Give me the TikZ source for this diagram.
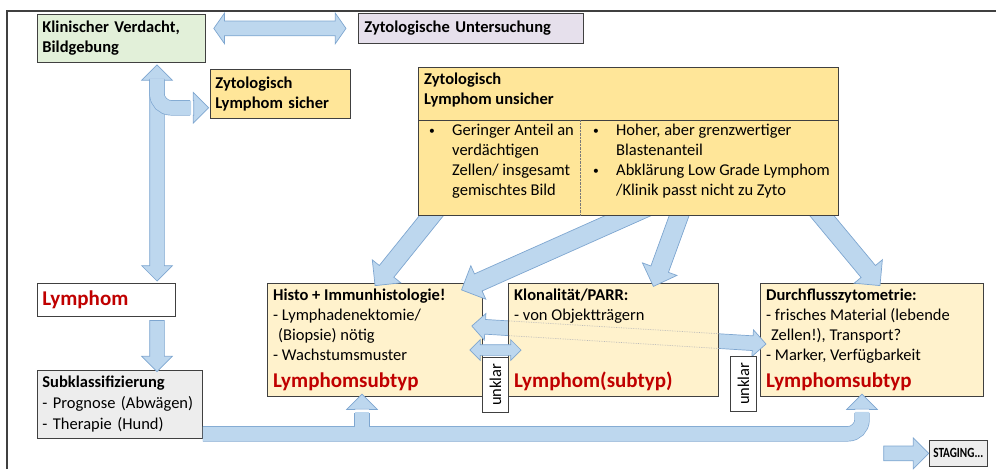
\documentclass[tikz,border=0pt]{standalone}
\usepackage{fontspec}
\setmainfont{Carlito}
\usepackage{xcolor}
\usetikzlibrary{calc,positioning,shapes.arrows}

\definecolor{gruen}{HTML}{E2F0D9}
\definecolor{lila}{HTML}{E6E0EC}
\definecolor{gelb}{HTML}{FFE699}
\definecolor{hellgelb}{HTML}{FFF2CC}
\definecolor{hellgrau}{HTML}{EDEDED}
\definecolor{pfeilblau}{HTML}{BDD7EE}
\definecolor{pfeilrand}{HTML}{7EA6D0}
\definecolor{dunkelrot}{HTML}{C00000}
\definecolor{rahmen}{HTML}{404040}

\newcommand\grundschrift{\fontsize{16.5}{20}\selectfont}
\newcommand\rotschrift{\fontsize{21}{25}\selectfont\bfseries\color{dunkelrot}}
\newcommand\punkt{\makebox[28pt][l]{\hspace{5pt}\raisebox{1pt}{\scalebox{0.7}{\textbullet}}}}
\newcommand\einzug{\hspace*{28pt}}

\tikzset{
	kasten/.style={draw=rahmen, line width=0.8pt, anchor=north west, inner sep=5pt, align=left, font=\grundschrift},
	schrift/.style={inner sep=5pt, anchor=north west, align=left, font=\grundschrift},
	lymphtext/.style={inner sep=5pt, font=\rotschrift},
	pfeil/.style={single arrow, draw=pfeilrand, fill=pfeilblau, line width=0.7pt, inner xsep=0pt, inner ysep=7pt, single arrow head extend=8pt, anchor=center},
	breitpfeil/.style={pfeil, inner ysep=9pt, single arrow head extend=9pt},
	doppelpfeil/.style={double arrow, draw=pfeilrand, fill=pfeilblau, line width=0.7pt, inner xsep=0pt, inner ysep=7pt, double arrow head extend=8pt, anchor=center},
	schaftrand/.style={draw=pfeilrand, line width=15.4pt, rounded corners=14pt},
	schaftfuell/.style={draw=pfeilblau, line width=14pt, rounded corners=14pt}
}

% block arrow between two points
\newcommand\blockpfeil[3]{%
	\path let \p1=(#2), \p2=(#3), \n1={atan2(\y2-\y1,\x2-\x1)}, \n2={veclen(\x2-\x1,\y2-\y1)} in
		node[#1, minimum height=\n2, rotate=\n1] at ($(\p1)!0.5!(\p2)$) {};}

\begin{document}
\begin{tikzpicture}[x=1pt, y=-1pt]
	\useasboundingbox (0,0) rectangle (996,469);

	% Frame
	\draw[rahmen, line width=1.5pt] (7,469) |- (996,11);

	% Boxes
	\node[kasten, fill=gruen, minimum width=168pt, minimum height=48pt, text width=158pt] (verdacht) at (37,14) {\textbf{Klinischer Verdacht,}\\\textbf{Bildgebung}};
	\node[kasten, fill=lila, minimum width=225pt, minimum height=30pt, text width=213pt, inner xsep=6pt] (untersuch) at (358,13) {\textbf{Zytologische Untersuchung}};
	\node[kasten, fill=gelb, minimum width=140pt, minimum height=49pt, text width=130pt] (sicher) at (210,69) {\textbf{Zytologisch}\\\textbf{Lymphom sicher}};
	\node[kasten, fill=white, minimum width=138pt, minimum height=33pt, text width=128pt] (lymphom) at (37,283) {\rotschrift Lymphom};
	\node[kasten, fill=hellgrau, minimum width=165pt, minimum height=68pt, text width=155pt] (subkl) at (37,370) {\textbf{Subklassifizierung}\\[1pt]- Prognose (Abwägen)\\[1pt]- Therapie (Hund)};
	\node[kasten, fill=hellgelb, minimum width=215pt, minimum height=113pt] (histo) at (267,283) {};
	\node[kasten, fill=hellgelb, minimum width=223pt, minimum height=113pt] (durch) at (760,283) {};
	\node[kasten, fill=hellgrau, minimum width=58pt, minimum height=26pt, align=center, inner sep=2pt, font=\fontsize{14}{16}\selectfont\bfseries] (staging) at (929,440) {\scalebox{0.8}[1]{STAGING...}};

	% Arrow between Histo and Durchfluss, under Klonalitaet
	\coordinate (q1) at ($(histo.north east)+(-11,43)$);
	\coordinate (q2) at ($(durch.north west)+(6,61)$);
	\blockpfeil{doppelpfeil, double arrow head extend=6pt}{q1}{q2}
	\node[kasten, fill=hellgelb, minimum width=210pt, minimum height=113pt] (klon) at (508,283) {};
	\begin{scope}
		\clip (klon.north west) rectangle (klon.south east);
		\blockpfeil{doppelpfeil, double arrow head extend=6pt, fill=none, draw=gray!55, densely dotted}{q1}{q2}
	\end{scope}

	% Arrows from the big box
	\coordinate (d1a) at ($(histo.north west)+(173,-78)$);
	\coordinate (d1b) at ($(histo.north west)+(111,-1)$);
	\coordinate (d2a) at ($(klon.north west)+(144,-78)$);
	\coordinate (d2b) at ($(histo.north east)+(-17,5)$);
	\coordinate (d3a) at ($(klon.north west)+(175,-78)$);
	\coordinate (d3b) at ($(klon.north west)+(147,-1)$);
	\coordinate (d4a) at ($(durch.north west)+(53,-78)$);
	\coordinate (d4b) at ($(durch.north west)+(117,-1)$);
	\blockpfeil{breitpfeil}{d1a}{d1b}
	\blockpfeil{breitpfeil}{d2a}{d2b}
	\blockpfeil{breitpfeil}{d3a}{d3b}
	\blockpfeil{breitpfeil}{d4a}{d4b}

	% Big box
	\node[kasten, fill=gelb, minimum width=420pt, minimum height=148pt] (unsicher) at (418,67) {};
	\coordinate (kopf) at ($(unsicher.north west)+(0,53)$);
	\draw[draw=rahmen, line width=0.8pt] (kopf) -- (kopf -| unsicher.east);
	\draw[densely dotted, rahmen!70] ($(kopf)+(162,0)$) -- ($(unsicher.south west)+(162,0)$);
	\node[schrift] (kopftext) at ($(unsicher.north west)+(1,1)$) {\textbf{Zytologisch}\\\textbf{Lymphom unsicher}};
	\node[schrift] (links) at ($(kopf)+(1,-1)$) {\punkt Geringer Anteil an\\\einzug verdächtigen\\\einzug Zellen/ insgesamt\\\einzug gemischtes Bild};
	\node[schrift] (rechts) at ($(kopf)+(165,-1)$) {\punkt Hoher, aber grenzwertiger\\\einzug Blastenanteil\\\punkt Abklärung Low Grade Lymphom\\\einzug /Klinik passt nicht zu Zyto};

	% Texts of the lower boxes
	\node[schrift] (histotext) at ($(histo.north west)+(1,1)$) {\textbf{Histo + Immunhistologie!}\\- Lymphadenektomie/\\\hspace*{5pt}(Biopsie) nötig\\- Wachstumsmuster};
	\node[lymphtext, anchor=south west] (histotyp) at ($(histo.south west)+(1,-1)$) {Lymphomsubtyp};
	\node[schrift] (klontext) at ($(klon.north west)+(1,1)$) {\textbf{Klonalität/PARR:}\\- von Objektträgern};
	\node[lymphtext, anchor=south west] (klontyp) at ($(klon.south west)+(1,-1)$) {Lymphom(subtyp)};
	\node[schrift] (durchtext) at ($(durch.north west)+(1,1)$) {\textbf{Durchflusszytometrie:}\\- frisches Material (lebende\\\hspace*{5pt}Zellen!), Transport?\\- Marker, Verfügbarkeit};
	\node[lymphtext, anchor=south west] (durchtyp) at ($(durch.south west)+(1,-1)$) {Lymphomsubtyp};

	% Top double arrow
	\coordinate (h1) at ($(verdacht.north east |- untersuch.west)+(8,0)$);
	\coordinate (h2) at ($(untersuch.west)+(-12,0)$);
	\blockpfeil{doppelpfeil, double arrow tip angle=110}{h1}{h2}

	% Left column arrows
	\coordinate (v1) at ($(verdacht.south west)+(120,2)$);
	\coordinate (v2) at ($(lymphom.north west)+(120,-2)$);
	\coordinate (v3) at ($(lymphom.south west)+(120,0)$);
	\coordinate (v4) at ($(subkl.north west)+(120,-2)$);
	\blockpfeil{doppelpfeil}{v1}{v2}
	\blockpfeil{pfeil}{v3}{v4}

	% Branch to "Lymphom sicher"
	\coordinate (z0) at ($(verdacht.south west)+(120,16)$);
	\coordinate (z1) at ($(sicher.south west)+(-20,-11)$);
	\coordinate (z2) at ($(sicher.south west)+(-5,-11)$);
	\draw[schaftrand] (z0) |- (z1);
	\blockpfeil{pfeil}{z1}{z2}
	\draw[schaftfuell] (z0) |- ($(z1)+(1,0)$);

	% Bottom arrows
	\coordinate (u0) at ($(subkl.south east)+(0,-5)$);
	\coordinate (u1) at ($(durch.south west)+(102,16)$);
	\coordinate (u2) at ($(durch.south west)+(102,1)$);
	\coordinate (w0) at ($(histo.south west)+(95,37)$);
	\coordinate (w1) at ($(histo.south west)+(95,16)$);
	\coordinate (w2) at ($(histo.south west)+(95,1)$);
	\draw[schaftrand] (u0) -| (u1);
	\draw[schaftrand] (w0) -- (w1);
	\blockpfeil{pfeil}{u1}{u2}
	\blockpfeil{pfeil}{w1}{w2}
	\draw[schaftfuell] (u0) -| ($(u1)+(0,-1)$);
	\draw[schaftfuell] (w0) -- ($(w1)+(0,-1)$);

	% Arrow to staging
	\coordinate (s1) at ($(staging.west)+(-49,0)$);
	\coordinate (s2) at ($(staging.west)+(-4,0)$);
	\blockpfeil{pfeil}{s1}{s2}

	% Small double arrow
	\coordinate (k1) at ($(histo.north east)+(-13,67)$);
	\coordinate (k2) at ($(klon.north west)+(13,67)$);
	\blockpfeil{doppelpfeil, inner ysep=5pt, double arrow head extend=5pt}{k1}{k2}

	% unklar
	\node[kasten, fill=white, anchor=center, rotate=90, minimum width=55pt, minimum height=26pt, inner sep=2pt, align=center] (unklar1) at ($(histo.south east)!0.5!(klon.south west)+(0,-12)$) {unklar};
	\node[kasten, fill=white, anchor=center, rotate=90, minimum width=55pt, minimum height=26pt, inner sep=2pt, align=center] (unklar2) at ($(klon.south east)!0.5!(durch.south west)+(4,-13)$) {unklar};
\end{tikzpicture}
\end{document}
